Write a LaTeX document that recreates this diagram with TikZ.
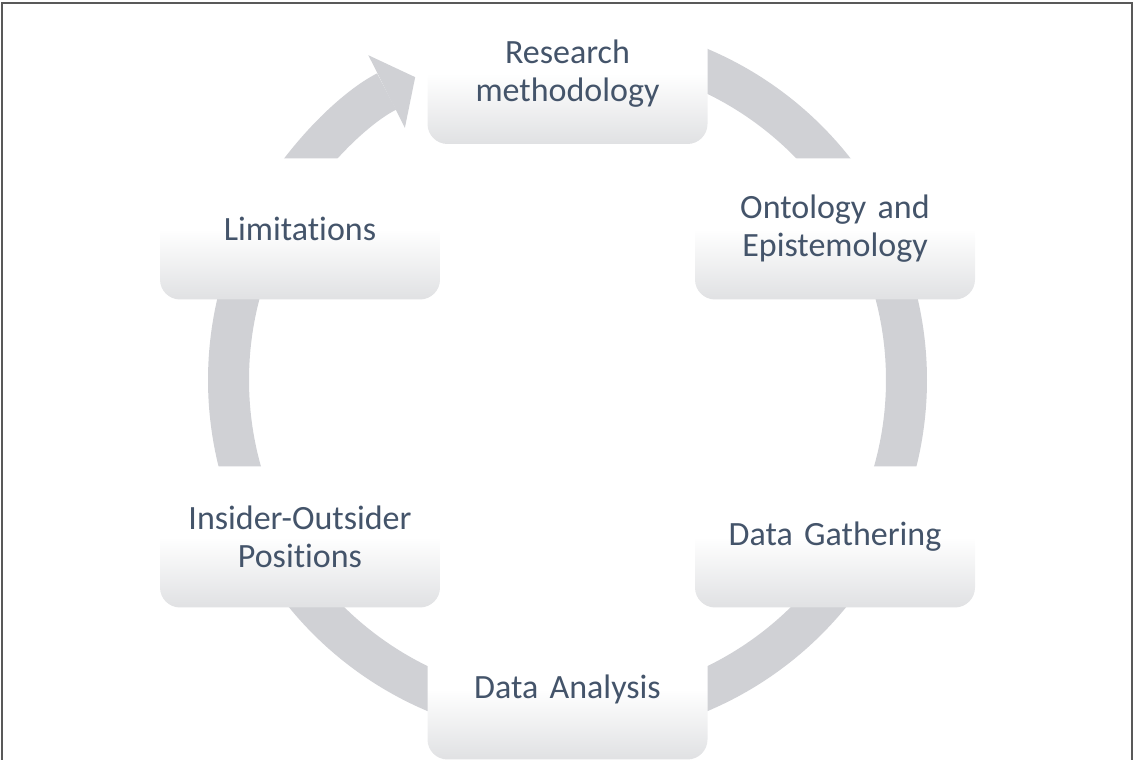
\documentclass[tikz,border=0pt]{standalone}
\usepackage{fontspec}
\setmainfont{Carlito}[Ligatures=NoCommon, Contextuals=NoAlternate]
\usetikzlibrary{arrows.meta}
\definecolor{cyctext}{HTML}{44546A}
\definecolor{cycring}{HTML}{D0D1D5}
\definecolor{cycshade}{HTML}{E0E1E3}
\definecolor{cycframe}{HTML}{595959}

\begin{document}
\begin{tikzpicture}[
  x=0.75pt, y=0.75pt,
  stage/.style={rounded corners=15pt, minimum width=210pt, minimum height=105.75pt,
                text width=200pt, inner sep=0pt, align=center, text=cyctext,
                top color=white, bottom color=cycshade, middle color=white,
                font=\fontsize{25.5pt}{28.5pt}\selectfont},
  ring/.style={draw=cycring, line width=30.75pt},
  frame/.style={draw=cycframe, line width=1.5pt}
]
\useasboundingbox (0,0) rectangle (1133,760);
\coordinate (hub) at (567.5,380);
% ring pieces first, the boxes cover their ends
\foreach \s/\e in {90/30, 30/-30, -30/-90, -90/-150, -150/-210}
  \draw[ring] (hub) ++(\s:339) arc[start angle=\s, end angle=\e, radius=339];
\draw[ring, -{Triangle[length=24pt, width=61pt, line width=0pt]}]
  (hub) ++(150:339) arc[start angle=150, end angle=116.7, radius=339];
% the six stages
\node[stage] (method) at (567.5,686.5) {Research\\methodology};
\node[stage] (onto)   at (835,531)     {Ontology and\\Epistemology};
\node[stage] (gather) at (835,223)     {Data Gathering};
\node[stage] (analys) at (567.5,71)    {Data Analysis};
\node[stage] (insout) at (300,223)     {Insider-Outsider\\Positions};
\node[stage] (limits) at (300,531)     {Limitations};
% outer frame over everything
\draw[frame] (2,0) -- (2,757) -- (1131.5,757) -- (1131.5,0);
\end{tikzpicture}
\end{document}
